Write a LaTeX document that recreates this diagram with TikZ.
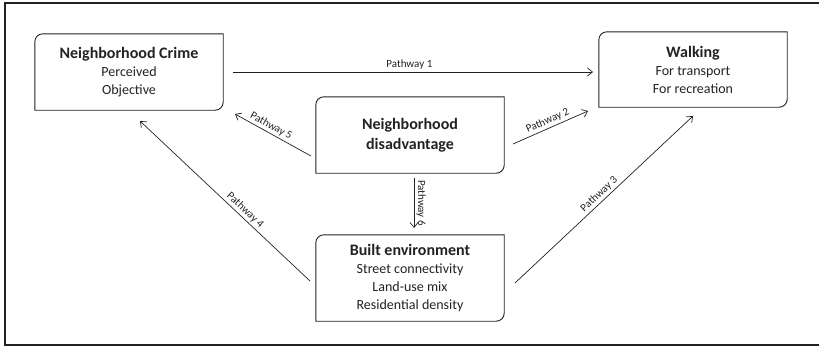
\documentclass[tikz,border=0pt]{standalone}
\usepackage{fontspec}
\setmainfont{Carlito}
\usetikzlibrary{arrows.meta,calc}
\definecolor{ink}{HTML}{222222}
\tikzset{
  box/.style={draw=none, minimum width=188pt, inner sep=0pt, align=center, text=ink, font=\fontsize{14}{18}\selectfont},
  conn/.style={draw=ink, line width=0.7pt, -{Straight Barb[length=5pt,width=8pt]}},
  plabel/.style={font=\fontsize{11}{13}\selectfont, text=ink, inner sep=2pt},
  frame/.style={draw=ink, line width=1.2pt}
}
\newcommand\cornerbox[1]{%
  \draw[ink, line width=0.9pt] ($(#1.north west)+(0,-8pt)$) -- (#1.south west) -- ($(#1.south east)+(-8pt,0)$)
    arc[start angle=270,end angle=360,radius=8pt] -- (#1.north east) -- ($(#1.north west)+(8pt,0)$)
    arc[start angle=90,end angle=180,radius=8pt];}
\begin{document}
\begin{tikzpicture}[x=1pt,y=1pt]
\useasboundingbox (0,0) rectangle (819,-346);
\draw[frame] (830,-3) -- (5,-3) -- (5,-345) -- (830,-345);
\node[box, minimum height=76pt] (crime) at (129,-72) {{\fontsize{16}{20}\selectfont\bfseries Neighborhood Crime}\\Perceived\\Objective};
\node[box, minimum height=75pt] (walk) at (693,-69.5) {{\fontsize{16}{20}\selectfont\bfseries Walking}\\For transport\\For recreation};
\node[box, minimum height=76pt, font=\fontsize{16}{20}\selectfont\bfseries] (dis) at (410,-135) {Neighborhood\\disadvantage};
\node[box, minimum height=86pt] (built) at (410,-278) {{\fontsize{16}{20}\selectfont\bfseries Built environment}\\Street connectivity\\Land-use mix\\Residential density};
\cornerbox{crime}\cornerbox{walk}\cornerbox{dis}\cornerbox{built}
\coordinate (p1s) at (233,-72); \coordinate (p1e) at (593,-72);
\coordinate (p2s) at (513,-144); \coordinate (p2e) at (588,-111);
\coordinate (p3s) at (515,-283); \coordinate (p3e) at (693,-116);
\coordinate (p4s) at (310,-281); \coordinate (p4e) at (140,-121);
\coordinate (p5s) at (311,-156); \coordinate (p5e) at (235,-114);
\coordinate (p6s) at (414,-178); \coordinate (p6e) at (414,-228);
\draw[conn] (p1s) -- node[plabel, above, pos=0.49] (l1) {Pathway 1} (p1e);
\draw[conn] (p2s) -- node[plabel, above, sloped, pos=0.5] (l2) {Pathway 2} (p2e);
\draw[conn] (p3s) -- node[plabel, above, sloped, pos=0.5] (l3) {Pathway 3} (p3e);
\draw[conn] (p4s) -- node[plabel, above, sloped, pos=0.41] (l4) {Pathway 4} (p4e);
\draw[conn] (p5s) -- node[plabel, above, sloped, pos=0.57] (l5) {Pathway 5} (p5e);
\draw[conn] (p6s) -- node[plabel, rotate=-90, anchor=south, pos=0.5] (l6) {Pathway 6} (p6e);
\end{tikzpicture}
\end{document}
